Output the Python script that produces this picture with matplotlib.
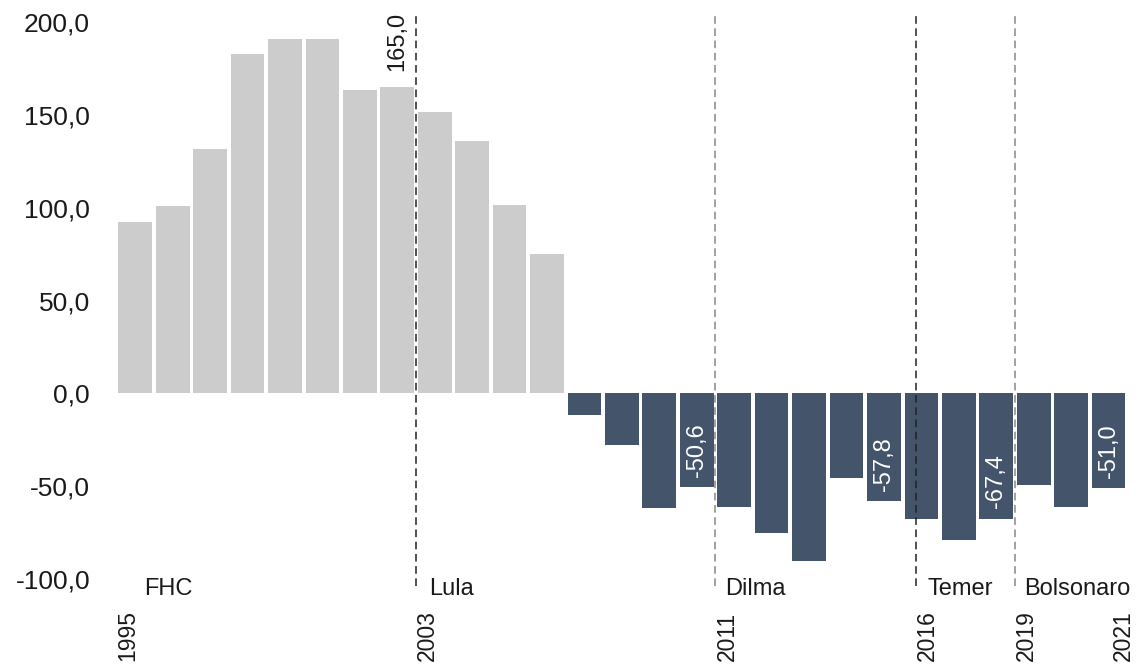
import matplotlib
matplotlib.use("Agg")
import matplotlib.pyplot as plt

plt.rcParams['font.family'] = ['Liberation Sans', 'DejaVu Sans']

# =========================
# Data
# =========================
years = list(range(1995, 2022))
values = [92.7, 101.0, 131.6, 183.2, 191.1, 191.1, 163.6, 165.0, 151.7, 136.3,
          101.4, 75.1, -11.7, -27.6, -61.6, -50.6, -61.2, -75.0, -90.3, -45.8,
          -57.8, -67.5, -78.8, -67.4, -49.4, -61.2, -51.0]

# term starts (Temer took office in May 2016)
term_names = ["FHC", "Lula", "Dilma", "Temer", "Bolsonaro"]
term_starts = [1995, 2003, 2011, 2016.36, 2019]
year_labels = ["1995", "2003", "2011", "2016", "2019", "2021"]
year_label_pos = [1995, 2003, 2011, 2016.36, 2019, 2021.6]
labelled_years = [2002, 2010, 2015, 2018, 2021]

gray = "#CCCCCC"
navy = "#44546A"

# =========================
# Plot
# =========================
fig = plt.figure(figsize=(11.38, 6.69), dpi=100)
ax = fig.add_axes([116.5 / 1138, 0, 1010.8 / 1138, 1])
ax.set_xlim(1995, 2022)
ax.set_ylim(-148.5, 212.1)

colors = [gray if v >= 0 else navy for v in values]
centers = [y + 0.5 for y in years]
ax.bar(centers, values, width=0.9, color=colors, zorder=1)

# vertical dashed lines at term starts
line_colors = ["#222222", "#888888", "#222222", "#888888"]
for x, c in zip(term_starts[1:], line_colors):
    ax.plot([x, x], [-104, 205], color=c, lw=1.1,
            linestyle=(0, (5, 3)), zorder=3, clip_on=False)

# president names
name_x = [1995.75, 2003.35, 2011.25, 2016.65, 2019.25]
for name, x in zip(term_names, name_x):
    ax.text(x, -105.5, name, fontsize=17, color="#1a1a1a",
            ha="left", va="center")

# year labels
for lab, x in zip(year_labels, year_label_pos):
    ax.text(x, -144, lab, rotation=90, fontsize=16.5, color="#1a1a1a",
            ha="left", va="bottom")

# value labels
for yr in labelled_years:
    v = values[years.index(yr)]
    txt = f"{v:.1f}".replace(".", ",")
    if v >= 0:
        ax.text(yr + 0.5, v + 9, txt, rotation=90, fontsize=17,
                color="#1a1a1a", ha="center", va="bottom", zorder=4)
    else:
        ax.text(yr + 0.5, v + 5.5, txt, rotation=90, fontsize=17,
                color="white", ha="center", va="bottom", zorder=4)

ax.set_yticks([200, 150, 100, 50, 0, -50, -100])
ax.set_yticklabels(["200,0", "150,0", "100,0", "50,0", "0,0", "-50,0", "-100,0"])
ax.tick_params(axis="y", length=0, pad=19, labelsize=19, labelcolor="#1a1a1a")
ax.set_xticks([])
for s in ax.spines.values():
    s.set_visible(False)

fig.savefig("out.png", dpi=100)
